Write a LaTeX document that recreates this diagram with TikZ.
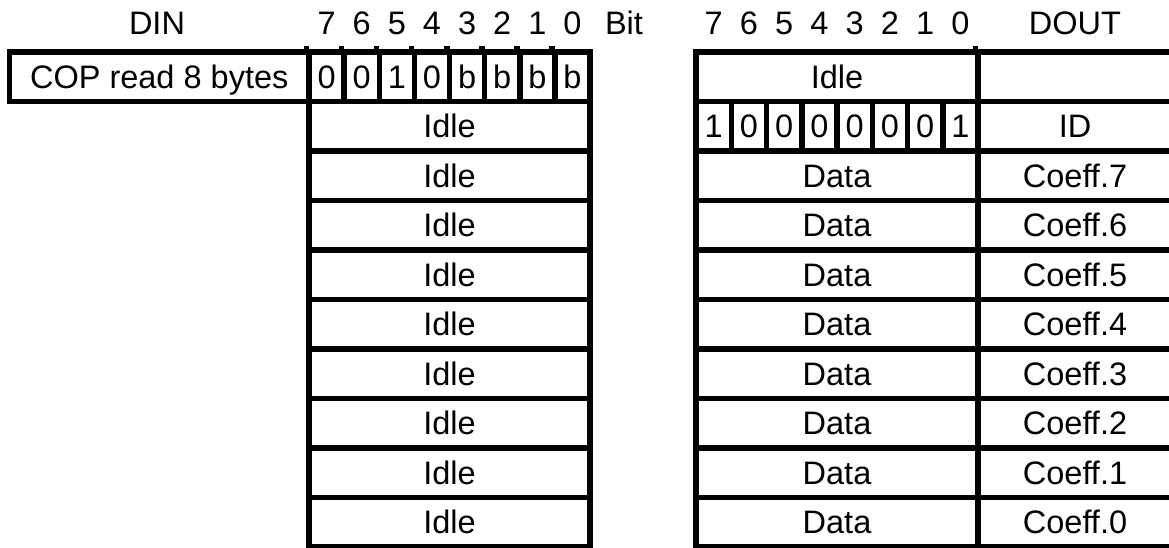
\documentclass[tikz,border=0pt]{standalone}
\usepackage{fontspec}
\setmainfont{Liberation Sans}
\begin{document}
\begin{tikzpicture}[x=1pt,y=-1pt,
  txt/.style={font=\fontsize{32.5}{32.5}\selectfont},
  cell/.style={txt, draw=black, line width=5.5pt, inner sep=0pt, minimum height=49.5pt, text height=23.3pt, text depth=0pt},
  lbit/.style={cell, minimum width=35.125pt},
  rbit/.style={cell, minimum width=35.25pt},
  hdr/.style={txt, inner sep=0pt, text height=23.3pt, text depth=0pt},
  tick/.style={line width=5.5pt}]
\useasboundingbox (0,0) rectangle (1169,547);
% headers
\node[hdr] (hdin) at (157,22.5) {DIN};
\node[hdr] (hbit) at (624,22.5) {Bit};
\node[hdr] (hdout) at (1075,22.5) {DOUT};
\foreach \i in {0,...,7}{
  \pgfmathtruncatemacro{\n}{7-\i}
  \node[hdr] (hl\i) at ({309+35.125*(\i+0.5)},22.5) {\n};
  \node[hdr] (hr\i) at ({696+35.25*(\i+0.5)},22.5) {\n};
}
% left table
\node[cell, minimum width=299.5pt] (cop) at (159.25,76.75) {COP read 8 bytes};
\foreach \v [count=\c from 0] in {0,0,1,0,b,b,b,b}{
  \node[lbit] (lb\c) at ({309+35.125*(\c+0.5)},76.75) {\v};
  \draw[tick] (lb\c.north west) -- ++(0,-3.5);
}
\foreach \k in {1,...,9}{
  \node[cell, minimum width=281pt] (lidle\k) at (449.5,{52+49.5*(\k+0.5)}) {Idle};
}
% right table
\node[cell, minimum width=282pt] (ridle) at (837,76.75) {Idle};
\node[cell, minimum width=194pt] (rdout) at (1075,76.75) {};
\draw[tick] (rdout.north west) -- ++(0,-3.5);
\foreach \v [count=\c from 0] in {1,0,0,0,0,0,0,1}{
  \node[rbit] (rb\c) at ({696+35.25*(\c+0.5)},126.25) {\v};
}
\node[cell, minimum width=194pt] (rid) at (1075,126.25) {ID};
\foreach \k in {2,...,9}{
  \pgfmathtruncatemacro{\m}{9-\k}
  \node[cell, minimum width=282pt] (rdata\k) at (837,{52+49.5*(\k+0.5)}) {Data};
  \node[cell, minimum width=194pt] (rcoef\k) at (1075,{52+49.5*(\k+0.5)}) {Coeff.\m};
}
\end{tikzpicture}
\end{document}
